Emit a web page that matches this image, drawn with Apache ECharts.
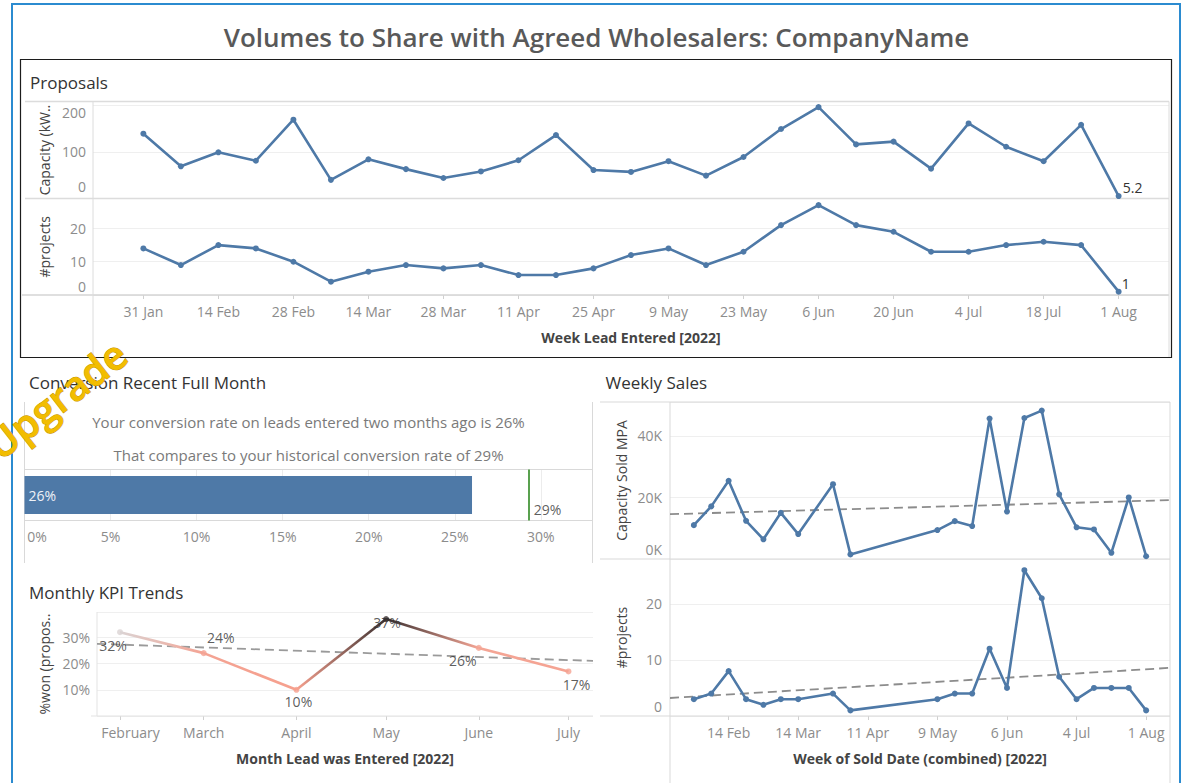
<!DOCTYPE html>
<html>
<head>
<meta charset="utf-8">
<title>Volumes to Share with Agreed Wholesalers</title>
<script src="https://cdn.jsdelivr.net/npm/echarts@6/dist/echarts.min.js"></script>
<style>
  html, body { margin: 0; padding: 0; background: #ffffff; }
  #chart { width: 1184px; height: 783px; }
</style>
</head>
<body>
<div id="chart"></div>
<script>
// ---------- data ----------
const leadWeeks = ['2022-01-31','2022-02-07','2022-02-14','2022-02-21','2022-02-28','2022-03-07','2022-03-14',
  '2022-03-21','2022-03-28','2022-04-04','2022-04-11','2022-04-18','2022-04-25','2022-05-02','2022-05-09',
  '2022-05-16','2022-05-23','2022-05-30','2022-06-06','2022-06-13','2022-06-20','2022-06-27','2022-07-04',
  '2022-07-11','2022-07-18','2022-07-25','2022-08-01'];
const proposalCapacity = [139, 69, 99, 81, 169, 40, 84, 63, 44, 58, 82, 136, 61, 57, 80, 49, 89, 149, 196,
  116, 122, 64, 161, 111, 80, 158, 5.2];
const proposalProjects = [14, 9, 15, 14, 10, 4, 7, 9, 8, 9, 6, 6, 8, 12, 14, 9, 13, 21, 27, 21, 19, 13, 13,
  15, 16, 15, 1];
const leadTickDates = ['2022-01-31','2022-02-14','2022-02-28','2022-03-14','2022-03-28','2022-04-11','2022-04-25',
  '2022-05-09','2022-05-23','2022-06-06','2022-06-20','2022-07-04','2022-07-18','2022-08-01'];
const leadTickLabels = ['31 Jan','14 Feb','28 Feb','14 Mar','28 Mar','11 Apr','25 Apr','9 May','23 May',
  '6 Jun','20 Jun','4 Jul','18 Jul','1 Aug'];

const recentConversion = 26;
const historicalConversion = 29.3;

const soldWeeks = ['2022-01-31','2022-02-07','2022-02-14','2022-02-21','2022-02-28','2022-03-07','2022-03-14',
  '2022-03-28','2022-04-04','2022-05-09','2022-05-16','2022-05-23','2022-05-30','2022-06-06','2022-06-13',
  '2022-06-20','2022-06-27','2022-07-04','2022-07-11','2022-07-18','2022-07-25','2022-08-01'];
const soldCapacity = [11000, 17100, 25400, 12400, 6400, 15000, 8100, 24300, 1500, 9400, 12300, 10700, 45600,
  15400, 45800, 48200, 21000, 10300, 9600, 2000, 20000, 900];
const soldProjects = [3, 4, 8, 3, 2, 3, 3, 4, 1, 3, 4, 4, 12, 5, 26, 21, 7, 3, 5, 5, 5, 1];
const soldTickDates = ['2022-02-14','2022-03-14','2022-04-11','2022-05-09','2022-06-06','2022-07-04','2022-08-01'];
const soldTickLabels = ['14 Feb','14 Mar','11 Apr','9 May','6 Jun','4 Jul','1 Aug'];

const kpiMonths = ['2022-02-01','2022-03-01','2022-04-01','2022-05-01','2022-06-01','2022-07-01'];
const kpiMonthLabels = ['February','March','April','May','June','July'];
const kpiWonPct = [32, 24, 10, 37, 26, 17];

// ---------- styling ----------
const FONT = '"Open Sans", "DejaVu Sans", sans-serif';
const BLUE = '#4e79a7';
const TICK_GREY = '#8c8c8c';
const RULE = '#d9d9d9';
const GRID_LINE = '#efefef';
const kpiPointColors = ['#dbd3d3', '#f4a393', '#f6a08e', '#3a3030', '#f4a595', '#f5a392'];
const kpiLabelOffsets = [[-7, 13], [17, -16], [2, 12], [1, 3], [-16, 13], [8, 13]];

const DAY = 86400000;
// dates are plotted as day numbers on plain value axes
const toDay = s => { const [y, m, d] = s.split('-').map(Number); return Date.UTC(y, m - 1, d) / DAY; };

// panel geometry (px)
const P = {
  lead: { left: 93, right: 1169, top: 101.5, split: 198.5, bottom: 295, foot: 357 },
  conv: { left: 24.5, right: 592.5, top: 469.5, bottom: 520.5, boxTop: 402, boxBottom: 563 },
  sold: { left: 670, right: 1170, top: 402, split: 559, bottom: 716, foot: 783, rule: 600 },
  kpi: { left: 97, right: 593, top: 612, bottom: 716 }
};

const leadDays = leadWeeks.map(toDay);
const soldDays = soldWeeks.map(toDay);
const kpiDays = kpiMonths.map(toDay);
const leadMin = leadDays[0] - 9.4, leadMax = leadDays[leadDays.length - 1] + 9.4;
const soldMin = soldDays[0] - 9.6, soldMax = soldDays[soldDays.length - 1] + 9.6;
const kpiMin = kpiDays[0] - 7.7, kpiMax = kpiDays[kpiDays.length - 1] + 8.2;

// least-squares trend line, evaluated at the two ends of the axis
function trendLine(xs, values, x0, x1) {
  const n = xs.length;
  const mx = xs.reduce((a, b) => a + b, 0) / n;
  const my = values.reduce((a, b) => a + b, 0) / n;
  let sxy = 0, sxx = 0;
  xs.forEach((x, i) => { sxy += (x - mx) * (values[i] - my); sxx += (x - mx) * (x - mx); });
  const slope = sxy / sxx;
  return [x0, x1].map(x => [x, my + slope * (x - mx)]);
}

const lookup = (dates, labels) => {
  const m = new Map(dates.map((d, i) => [toDay(d), labels[i]]));
  return v => m.get(v) ?? '';
};

const gridOf = (left, top, right, bottom) => ({
  left, top, width: right - left, height: bottom - top, containLabel: false, outerBoundsMode: 'none'
});

function dateAxis(gridIndex, min, max, opts = {}) {
  const base = {
    type: 'value', gridIndex, min, max, scale: true,
    axisLine: { show: false }, splitLine: { show: false },
    axisTick: { show: false }, axisLabel: { show: false }
  };
  if (!opts.ticks) return base;
  const fmt = lookup(opts.ticks, opts.labels);
  const values = opts.ticks.map(toDay);
  return Object.assign(base, {
    name: opts.name, nameLocation: 'middle', nameGap: opts.nameGap ?? 35,
    nameTextStyle: { color: '#444', fontSize: 14, fontWeight: 'bold', fontFamily: FONT },
    axisTick: { show: true, customValues: values, length: 4, lineStyle: { color: '#d0d0d0' } },
    axisLabel: {
      show: true, customValues: values, color: TICK_GREY, fontSize: 14, fontFamily: FONT, margin: 9,
      formatter: v => {
        const s = fmt(v);
        return (opts.firstPad && v === values[0]) ? `{first|${s}}` : s;
      },
      rich: { first: { padding: [0, 0, 0, opts.firstPad || 0] } }
    }
  });
}

function valueAxis(gridIndex, max, interval, name, fmt, opts = {}) {
  return {
    type: 'value', gridIndex, min: 0, max, interval,
    name, nameLocation: 'middle', nameGap: opts.nameGap ?? 42,
    nameTextStyle: { color: '#444', fontSize: 14, fontFamily: FONT },
    axisLine: { show: false }, axisTick: { show: false },
    splitLine: { lineStyle: { color: GRID_LINE, width: 1 } },
    axisLabel: {
      color: TICK_GREY, fontSize: 14, fontFamily: FONT, margin: opts.margin ?? 7,
      formatter: v => {
        if (Math.abs(v / interval - Math.round(v / interval)) > 1e-9) return '';
        const s = fmt(v);
        if (!s) return '';
        if (v === 0) return `{lo|${s}}`;
        if (opts.hiValue === v) return `{hi|${s}}`;
        return s;
      },
      rich: {
        lo: { padding: [0, 0, opts.loPad || 0, 0] },
        hi: { padding: [opts.hiPad || 0, 0, 0, 0] }
      }
    }
  };
}

const lineSeries = (xi, yi, xs, values, extra = {}) => Object.assign({
  type: 'line', xAxisIndex: xi, yAxisIndex: yi,
  data: xs.map((x, i) => [x, values[i]]),
  symbol: 'circle', symbolSize: 6,
  itemStyle: { color: BLUE }, lineStyle: { color: BLUE, width: 2.6 },
  z: 3
}, extra);

// marks with the value of the last week written beside it
const endLabelData = (xs, values, offset) => xs.map((x, i) => {
  if (i !== xs.length - 1) return [x, values[i]];
  return {
    value: [x, values[i]],
    label: { show: true, position: 'inside', offset, formatter: String(values[i]),
      color: '#333', fontSize: 14, fontFamily: FONT }
  };
});

const trendSeries = (xi, yi, pts, color) => ({
  type: 'line', xAxisIndex: xi, yAxisIndex: yi, data: pts, symbol: 'none', silent: true,
  lineStyle: { color, width: 1.8, type: [9, 5] }, z: 2
});

// ---------- series ----------
const series = [];

series.push(lineSeries(0, 0, leadDays, proposalCapacity, { data: endLabelData(leadDays, proposalCapacity, [14, -9]) }));
series.push(lineSeries(1, 1, leadDays, proposalProjects, { data: endLabelData(leadDays, proposalProjects, [7, -8]) }));

series.push({
  type: 'bar', xAxisIndex: 2, yAxisIndex: 2, data: [recentConversion], barWidth: 38,
  itemStyle: { color: BLUE },
  label: { show: true, position: 'insideLeft', distance: 4, formatter: p => Math.round(p.value) + '%',
    color: '#eef2f7', fontSize: 14, fontFamily: FONT },
  markLine: {
    silent: true, symbol: 'none', label: { show: false },
    lineStyle: { color: '#59a14f', width: 2, type: 'solid' },
    data: [{ xAxis: historicalConversion }]
  }
});
// historical rate written just right of the reference line
series.push({
  type: 'scatter', xAxisIndex: 2, yAxisIndex: 2, data: [[historicalConversion, 'Recent']],
  symbolSize: 2, itemStyle: { color: 'rgba(0,0,0,0)' }, silent: true, z: 5,
  label: { show: true, position: 'right', distance: 4, offset: [0, 14],
    formatter: p => Math.round(p.value[0]) + '%', color: '#333', fontSize: 14, fontFamily: FONT }
});

series.push(lineSeries(3, 3, soldDays, soldCapacity));
series.push(trendSeries(3, 3, trendLine(soldDays, soldCapacity, soldMin, soldMax), '#8c8c8c'));
series.push(lineSeries(4, 4, soldDays, soldProjects));
series.push(trendSeries(4, 4, trendLine(soldDays, soldProjects, soldMin, soldMax), '#8c8c8c'));

// KPI line: each segment blends the colours of its two end points
for (let i = 0; i < kpiDays.length - 1; i++) {
  series.push({
    type: 'line', xAxisIndex: 5, yAxisIndex: 5, symbol: 'none', silent: true, z: 3,
    data: [[kpiDays[i], kpiWonPct[i]], [kpiDays[i + 1], kpiWonPct[i + 1]]],
    lineStyle: {
      width: 2.6,
      color: new echarts.graphic.LinearGradient(0, 0, 1, 0, [
        { offset: 0, color: kpiPointColors[i] }, { offset: 1, color: kpiPointColors[i + 1] }
      ])
    }
  });
}
series.push(trendSeries(5, 5, trendLine(kpiDays, kpiWonPct, kpiMin, kpiMax), '#9a9a9a'));
series.push({
  type: 'scatter', xAxisIndex: 5, yAxisIndex: 5, symbolSize: 6, z: 4,
  data: kpiDays.map((x, i) => ({
    value: [x, kpiWonPct[i]],
    itemStyle: { color: kpiPointColors[i] },
    label: { show: true, position: 'inside', offset: kpiLabelOffsets[i],
      formatter: Math.round(kpiWonPct[i]) + '%', color: '#333', fontSize: 14, fontFamily: FONT }
  }))
});

// ---------- frame, rules and headings ----------
const rule = (x1, y1, x2, y2, color = RULE, w = 1) => ({
  type: 'line', silent: true, z: 1,
  shape: { x1, y1, x2, y2 }, style: { stroke: color, lineWidth: w }
});
const heading = (text, x, y, size, extra = {}) => ({
  type: 'text', x, y, silent: true, z: 5,
  style: Object.assign({
    text, fill: '#333', font: `${size}px ${FONT}`,
    align: 'left', verticalAlign: 'middle', textAlign: 'left', textVerticalAlign: 'middle'
  }, extra)
});

const graphics = [
  { type: 'rect', silent: true, z: 0, shape: { x: 12, y: 4, width: 1168, height: 800 },
    style: { fill: 'none', stroke: '#2b8bd0', lineWidth: 2 } },
  { type: 'rect', silent: true, z: 0, shape: { x: 20.5, y: 59.5, width: 1151, height: 298 },
    style: { fill: 'none', stroke: '#1c1c1c', lineWidth: 1.2 } },

  rule(25, P.lead.top, P.lead.right, P.lead.top, '#dcdcdc', 1.5),
  rule(25, P.lead.split, P.lead.right, P.lead.split, '#dcdcdc', 1.5),
  rule(22, P.lead.bottom, P.lead.right, P.lead.bottom, '#d4d4d4', 1.5),
  rule(P.lead.left, P.lead.top, P.lead.left, P.lead.foot, '#dcdcdc', 1),
  rule(P.lead.right, P.lead.top, P.lead.right, P.lead.foot, '#dcdcdc', 1),

  rule(P.conv.left, P.conv.boxTop, P.conv.left, P.conv.boxBottom),
  rule(P.conv.right, P.conv.boxTop, P.conv.right, P.conv.boxBottom),
  rule(P.conv.left, P.conv.top, P.conv.right, P.conv.top),
  rule(P.conv.left, P.conv.bottom, P.conv.right, P.conv.bottom),

  rule(P.sold.rule, P.sold.top, P.sold.right, P.sold.top),
  rule(P.sold.rule, P.sold.split, P.sold.right, P.sold.split),
  rule(P.sold.rule, P.sold.bottom, P.sold.right, P.sold.bottom),
  rule(P.sold.left, P.sold.top, P.sold.left, P.sold.foot),
  rule(P.sold.right, P.sold.top, P.sold.right, P.sold.foot),

  rule(P.kpi.left, P.kpi.top, P.kpi.left, P.kpi.bottom, '#e3e3e3'),
  rule(91, P.kpi.bottom, P.kpi.right, P.kpi.bottom, '#e3e3e3'),

  heading('Volumes to Share with Agreed Wholesalers: CompanyName', 596.5, 37, 26,
    { fill: '#595959', font: `600 26px ${FONT}`, align: 'center', textAlign: 'center' }),
  heading('Proposals', 30, 82, 17),
  heading('Conversion Recent Full Month', 29, 382, 17),
  heading('Weekly Sales', 605.5, 382, 17),
  heading('Monthly KPI Trends', 29, 592, 17),
  heading(`Your conversion rate on leads entered two months ago is ${Math.round(recentConversion)}%`, 308.5, 421.5, 15,
    { fill: '#7a7a7a', align: 'center', textAlign: 'center' }),
  heading(`That compares to your historical conversion rate of ${Math.round(historicalConversion)}%`, 308.5, 455, 15,
    { fill: '#7a7a7a', align: 'center', textAlign: 'center' }),

  {
    type: 'text', x: 56, y: 399, rotation: 0.66, silent: true, z: 100,
    style: {
      text: 'Upgrade', font: `600 40px ${FONT}`, fill: '#f2bd00', stroke: '#c79400', lineWidth: 1,
      align: 'center', verticalAlign: 'middle', textAlign: 'center', textVerticalAlign: 'middle',
      shadowColor: 'rgba(110, 75, 0, 0.35)', shadowBlur: 2, shadowOffsetX: 1, shadowOffsetY: 1
    }
  }
];

// ---------- chart ----------
const chart = echarts.init(document.getElementById('chart'), null, { renderer: 'svg' });
chart.setOption({
  animation: false,
  backgroundColor: '#ffffff',
  textStyle: { fontFamily: FONT },
  grid: [
    gridOf(P.lead.left, P.lead.top, P.lead.right, P.lead.split),
    gridOf(P.lead.left, P.lead.split, P.lead.right, P.lead.bottom),
    gridOf(P.conv.left, P.conv.top, P.conv.right, P.conv.bottom),
    gridOf(P.sold.left, P.sold.top, P.sold.right, P.sold.split),
    gridOf(P.sold.left, P.sold.split, P.sold.right, P.sold.bottom),
    gridOf(P.kpi.left, P.kpi.top, P.kpi.right, P.kpi.bottom)
  ],
  xAxis: [
    dateAxis(0, leadMin, leadMax),
    dateAxis(1, leadMin, leadMax, { ticks: leadTickDates, labels: leadTickLabels, name: 'Week Lead Entered [2022]', nameGap: 35 }),
    {
      type: 'value', gridIndex: 2, min: 0, max: 33, interval: 5,
      axisLine: { show: false }, axisTick: { show: false },
      splitLine: { lineStyle: { color: '#ececec' } },
      axisLabel: {
        color: TICK_GREY, fontSize: 14, fontFamily: FONT, margin: 9,
        formatter: v => v % 5 ? '' : (v === 0 ? `{first|${v}%}` : `${v}%`),
        rich: { first: { padding: [0, 0, 0, 25] } }
      }
    },
    dateAxis(3, soldMin, soldMax),
    dateAxis(4, soldMin, soldMax, { ticks: soldTickDates, labels: soldTickLabels, name: 'Week of Sold Date (combined) [2022]', nameGap: 35.5 }),
    dateAxis(5, kpiMin, kpiMax, { ticks: kpiMonths, labels: kpiMonthLabels, name: 'Month Lead was Entered [2022]', nameGap: 35, firstPad: 21 })
  ],
  yAxis: [
    valueAxis(0, 208, 100, 'Capacity (kW..', v => String(v), { loPad: 24, hiValue: 200, hiPad: 15 }),
    valueAxis(1, 29, 10, '#projects', v => String(v), { loPad: 17 }),
    { type: 'category', gridIndex: 2, data: ['Recent'], show: false },
    valueAxis(3, 51000, 20000, 'Capacity Sold MPA', v => (v / 1000) + 'K', { loPad: 20, margin: 8 }),
    valueAxis(4, 28, 10, '#projects', v => String(v), { loPad: 19, margin: 8 }),
    valueAxis(5, 39.7, 10, '%won (propos..', v => v === 0 ? '' : v + '%', { nameGap: 46 })
  ],
  series,
  graphic: graphics
});
</script>
</body>
</html>
